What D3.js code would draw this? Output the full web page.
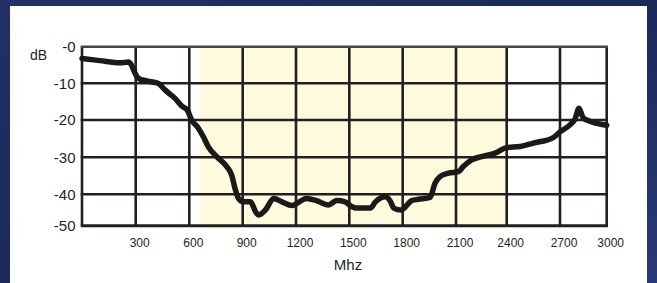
<!DOCTYPE html>
<html>
<head>
<meta charset="utf-8">
<script src="https://cdn.jsdelivr.net/npm/d3@7"></script>
<style>
  html, body { margin: 0; padding: 0; background: #1d2a5d; }
  svg { display: block; }
  text { font-family: "Liberation Sans", Arial, sans-serif; fill: #231f20; }
</style>
</head>
<body>
<svg id="chart" width="657" height="283"></svg>
<script>
// grid ticks
const xTicks = [0, 300, 600, 900, 1200, 1500, 1800, 2100, 2400, 2700, 3000];
const yTicks = [0, -10, -20, -30, -40, -50];
const yLabels = ["-0", "-10", "-20", "-30", "-40", "-50"];

// shaded band (MHz)
const bandStart = 660;
const bandEnd = 2400;

// response curve
const freq = [0, 100, 213, 259, 275, 290, 315, 357, 425, 464, 483, 520, 558, 589, 613, 651, 679, 707, 754, 810, 838,
  857, 876, 904, 944, 972, 990, 1028, 1074, 1121, 1177, 1204, 1260, 1316, 1382, 1429, 1476, 1513, 1541, 1619,
  1647, 1704, 1732, 1750, 1790, 1851, 1888, 1954, 1982, 2010, 2057, 2114, 2143, 2193, 2252, 2331, 2400, 2475,
  2550, 2662, 2700, 2764, 2796, 2822, 2850, 2904, 3000];
const dB = [-3.2, -3.8, -4.4, -4.2, -4.9, -6.6, -8.6, -9.3, -10, -11.8, -12.6, -14.1, -16.2, -17.3, -20, -22.2, -24.5,
  -27.2, -29.8, -32.5, -34.8, -38.4, -41.3, -42.4, -42.4, -45.5, -46.6, -45, -41.3, -42.4, -43.6, -42.9, -41.3,
  -42.0, -43.4, -42.0, -42.4, -43.9, -44.4, -44.4, -42.4, -40.8, -42.4, -44.4, -45, -42.0, -41.6, -41.0, -37.0,
  -35.2, -34.3, -33.9, -32.5, -30.7, -29.8, -28.9, -27.4, -27.1, -26.2, -24.7, -23.2, -21.3, -19.8, -16.8, -19.5,
  -20.5, -21.4];

const svg = d3.select("#chart");

// dark backdrop + white panel
const defs = svg.append("defs");
const grad = defs.append("linearGradient").attr("id", "bg").attr("x1", 0).attr("y1", 0).attr("x2", 1).attr("y2", 1);
grad.append("stop").attr("offset", "0%").attr("stop-color", "#223067");
grad.append("stop").attr("offset", "50%").attr("stop-color", "#1c285a");
grad.append("stop").attr("offset", "100%").attr("stop-color", "#2a3a78");
svg.append("rect").attr("width", 657).attr("height", 283).attr("fill", "url(#bg)");
svg.append("rect").attr("x", 10).attr("y", 6).attr("width", 637).attr("height", 280).attr("fill", "#ffffff");

// grid is not evenly spaced in the source, so use a polylinear scale
const x = d3.scaleLinear()
  .domain(xTicks)
  .range([82, 135.7, 189.3, 242.7, 296, 349.3, 402.7, 456, 506.7, 560, 606.7]);
const y = d3.scaleLinear()
  .domain(yTicks)
  .range([46.7, 83.3, 120, 157.3, 194.3, 225.7]);

const g = svg.append("g");

g.append("rect")
  .attr("x", x(bandStart))
  .attr("y", y(0))
  .attr("width", x(bandEnd) - x(bandStart))
  .attr("height", y(-50) - y(0))
  .attr("fill", "#fefade");

g.selectAll("line.v")
  .data(xTicks)
  .join("line")
  .attr("class", "v")
  .attr("x1", d => x(d)).attr("x2", d => x(d))
  .attr("y1", y(0)).attr("y2", y(-50))
  .attr("stroke", "#231f20")
  .attr("stroke-width", 2.6);

g.selectAll("line.h")
  .data(yTicks)
  .join("line")
  .attr("class", "h")
  .attr("x1", x(0) - 1.3).attr("x2", x(3000) + 1.3)
  .attr("y1", d => y(d)).attr("y2", d => y(d))
  .attr("stroke", d => d === 0 ? "#444" : "#231f20")
  .attr("stroke-width", d => d === -50 ? 3 : 2.6);

const line = d3.line()
  .x(d => x(d[0]))
  .y(d => y(d[1]))
  .curve(d3.curveMonotoneX);

g.append("path")
  .datum(d3.zip(freq, dB))
  .attr("d", line)
  .attr("fill", "none")
  .attr("stroke", "#1a1a1a")
  .attr("stroke-width", 5.5)
  .attr("stroke-linejoin", "round")
  .attr("stroke-linecap", "round");

// axis labels
g.selectAll("text.xt")
  .data(xTicks.slice(1))
  .join("text")
  .attr("class", "xt")
  .attr("x", d => x(d) + 4)
  .attr("y", 247)
  .attr("text-anchor", "middle")
  .style("font-size", "12px")
  .text(d => d);

g.selectAll("text.yt")
  .data(yTicks)
  .join("text")
  .attr("class", "yt")
  .attr("x", 75.5)
  .attr("y", d => y(d))
  .attr("dy", "0.35em")
  .attr("text-anchor", "end")
  .style("font-size", "15px")
  .text((d, i) => yLabels[i]);

svg.append("text")
  .attr("x", 30)
  .attr("y", 60)
  .style("font-size", "14px")
  .text("dB");

svg.append("text")
  .attr("x", 348)
  .attr("y", 270)
  .attr("text-anchor", "middle")
  .style("font-size", "15px")
  .text("Mhz");
</script>
</body>
</html>
